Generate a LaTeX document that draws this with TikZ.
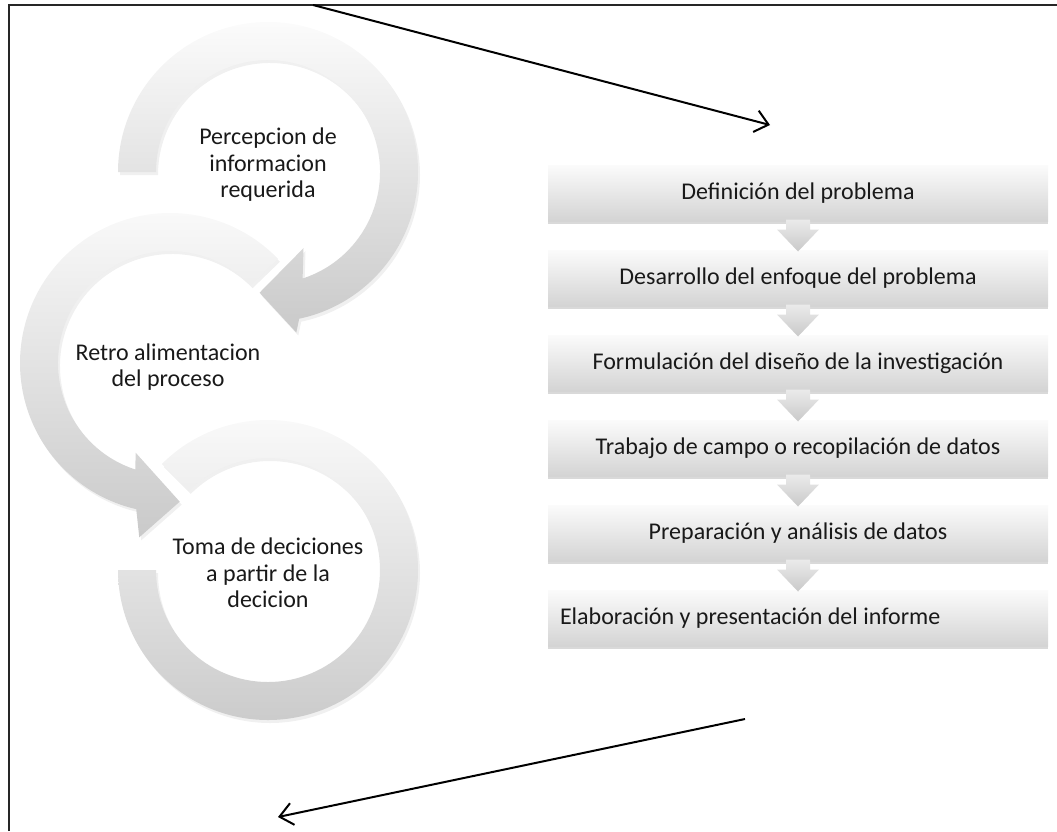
\documentclass[tikz,border=0pt]{standalone}
\usepackage{fontspec}
\setmainfont{Carlito}
\usetikzlibrary{arrows.meta, positioning, calc, shadows}

\begin{document}
\begin{tikzpicture}[
    x=1pt, y=1pt,
    etapa/.style={minimum width=500pt, minimum height=56pt, text width=476pt,
                  inner xsep=12pt, align=flush center, text=black!90,
                  top color=gray!3, bottom color=gray!34,
                  drop shadow={shadow xshift=0pt, shadow yshift=-3pt, opacity=0.3},
                  font=\fontsize{24}{27}\selectfont},
    bajada/.style={top color=gray!16, bottom color=gray!42},
    aro/.style={top color=gray!3, bottom color=gray!42,
                drop shadow={shadow xshift=2pt, shadow yshift=-3pt, opacity=0.12}},
    rotulo/.style={align=center, text=black!90, font=\fontsize{24}{26.5}\selectfont},
    >={Straight Barb[length=13pt,width=22pt]}
  ]
  \useasboundingbox (0,0) rectangle (1057,-831);

  % marco
  \draw[line width=2pt, black!85] (9,-831) -- (9,-5) -- (1057,-5);

  % ciclo de la izquierda
  \coordinate (c1) at (268,-172);
  \coordinate (c2) at (170,-363);
  \coordinate (c3) at (268,-570);

  \shade[aro] ($(c3)+(135:150)$) arc[start angle=135, end angle=-180, radius=150]
    -- ($(c3)+(180:112)$) arc[start angle=-180, end angle=135, radius=112] -- cycle;

  \shade[aro] ($(c2)+(44:150)$) arc[start angle=44, end angle=257, radius=150]
    -- ($(c2)+(260:177)$) -- ($(c2)+(274:139)$) -- ($(c2)+(249:96)$)
    -- ($(c2)+(252:112)$) arc[start angle=252, end angle=44, radius=112] -- cycle;

  \shade[aro] ($(c1)+(180:150)$) arc[start angle=180, end angle=-78, radius=150]
    -- ($(c1)+(-80:163)$) -- ($(c1)+(-94:121)$) -- ($(c1)+(-65:84)$)
    -- ($(c1)+(-72:112)$) arc[start angle=-72, end angle=180, radius=112] -- cycle;

  \node[rotulo] (t1) at (268,-165) {Percepcion de\\informacion\\requerida};
  \node[rotulo] (t2) at (168,-367) {Retro alimentacion\\del proceso};
  \node[rotulo] (t3) at (268,-573) {Toma de deciciones\\a partir de la\\decicion};

  % etapas
  \foreach \txt [count=\i] in {Definición del problema,
      Desarrollo del enfoque del problema,
      Formulación del diseño de la investigación,
      Trabajo de campo o recopilación de datos,
      Preparación y análisis de datos} {
    \node[etapa] (s\i) at (798,-193-85*\i+85) {\txt};
  }
  \node[etapa, align=flush left] (s6) at (798,-618) {Elaboración y presentación del informe};

  % flechas entre etapas
  \foreach \i [evaluate=\i as \j using int(\i+1)] in {1,...,5} {
    \coordinate (m\i) at ($(s\i.south)!0.5!(s\j.north)$);
    \shade[bajada] (m\i) ++(-12,16) -- ++(24,0) -- ++(0,-10) -- ++(9,0)
      -- ++(-21,-22) -- ++(-21,22) -- ++(9,0) -- cycle;
  }

  % flechas negras
  \coordinate (a1) at (313,-5);
  \coordinate (b1) at (770,-125);
  \coordinate (a2) at (745,-719);
  \coordinate (b2) at (278,-817);
  \draw[->, line width=2pt] (a1) -- (b1);
  \draw[->, line width=2pt] (a2) -- (b2);
\end{tikzpicture}
\end{document}
